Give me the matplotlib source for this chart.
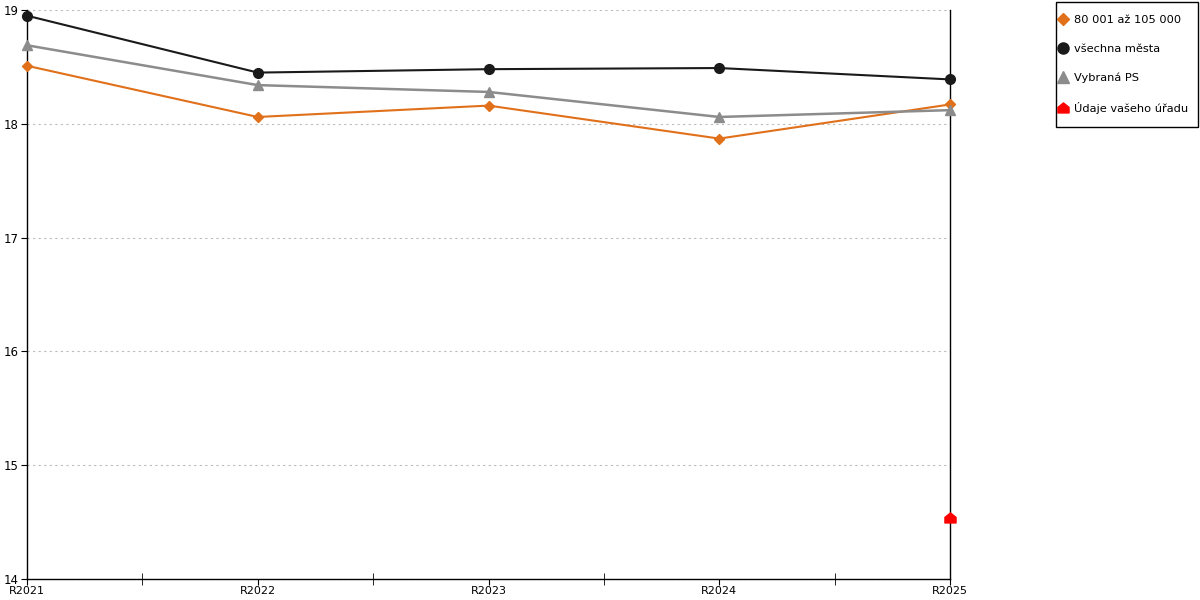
import matplotlib.pyplot as plt
from matplotlib.lines import Line2D
from matplotlib.path import Path
from matplotlib.patches import Rectangle

# data
years = ["R2021", "R2022", "R2023", "R2024", "R2025"]
size_group = [18.51, 18.06, 18.16, 17.87, 18.17]
all_cities = [18.95, 18.45, 18.48, 18.49, 18.39]
selected_ps = [18.69, 18.34, 18.28, 18.06, 18.12]
your_office = [None, None, None, None, 14.54]

# little house-shaped marker for the office value
house = Path([(-1, -0.8), (1, -0.8), (1, 0.2), (0, 1), (-1, 0.2), (-1, -0.8)],
             [Path.MOVETO, Path.LINETO, Path.LINETO, Path.LINETO, Path.LINETO, Path.CLOSEPOLY])

W, H = 1200, 600
fig = plt.figure(figsize=(12, 6), dpi=100)
ax = fig.add_axes([27 / W, 1 - 579 / H, (950 - 27) / W, (579 - 10) / H])

x = list(range(len(years)))
ax.plot(x, size_group, color="#e0701a", lw=1.5, marker="D", ms=5.5, zorder=3, clip_on=False)
ax.plot(x, selected_ps, color="#8c8c8c", lw=1.8, marker="^", ms=7, zorder=3, clip_on=False)
ax.plot(x, all_cities, color="#1a1a1a", lw=1.5, marker="o", ms=7, zorder=4, clip_on=False)
ox = [i for i, v in enumerate(your_office) if v is not None]
oy = [v for v in your_office if v is not None]
ax.plot(ox, oy, ls="none", color="#ff0000", marker=house, ms=8, zorder=5, clip_on=False)

ax.set_xlim(0, len(years) - 1)
ax.set_ylim(14, 19)
ax.set_yticks([14, 15, 16, 17, 18, 19])
ax.set_xticks(x)
ax.set_xticklabels(years)
ax.set_xticks([i + 0.5 for i in x[:-1]], minor=True)
ax.tick_params(axis="x", which="major", direction="out", length=4, labelsize=8, pad=1, color="black")
ax.tick_params(axis="x", which="minor", direction="inout", length=8)
ax.tick_params(axis="y", direction="out", length=4, labelsize=8.5, pad=2)

ax.grid(axis="y", color="#bbbbbb", ls=(0, (2, 3)), lw=0.8)
ax.set_axisbelow(True)
ax.spines["top"].set_visible(False)
for side in ["left", "bottom", "right"]:
    ax.spines[side].set_linewidth(1.0)

# legend box drawn separately so its size can match the reference
fig.patches.append(Rectangle((1056 / W, 1 - 127 / H), 142 / W, 125 / H,
                             transform=fig.transFigure, fill=False,
                             edgecolor="black", lw=1.0))

handles = [
    Line2D([], [], ls="none", marker="D", color="#e0701a", ms=6),
    Line2D([], [], ls="none", marker="o", color="#1a1a1a", ms=8),
    Line2D([], [], ls="none", marker="^", color="#8c8c8c", ms=8),
    Line2D([], [], ls="none", marker=house, color="#ff0000", ms=8),
]
labels = ["80 001 až 105 000", "všechna města", "Vybraná PS", "Údaje vašeho úřadu"]
leg = fig.legend(handles, labels, loc="upper left", bbox_to_anchor=(1052 / W, 1 - 8 / H),
                 fontsize=8.2, frameon=False,
                 handlelength=0.7, handletextpad=0.6, labelspacing=1.67,
                 borderpad=0.6, borderaxespad=0)

fig.savefig("out.png", dpi=100)
